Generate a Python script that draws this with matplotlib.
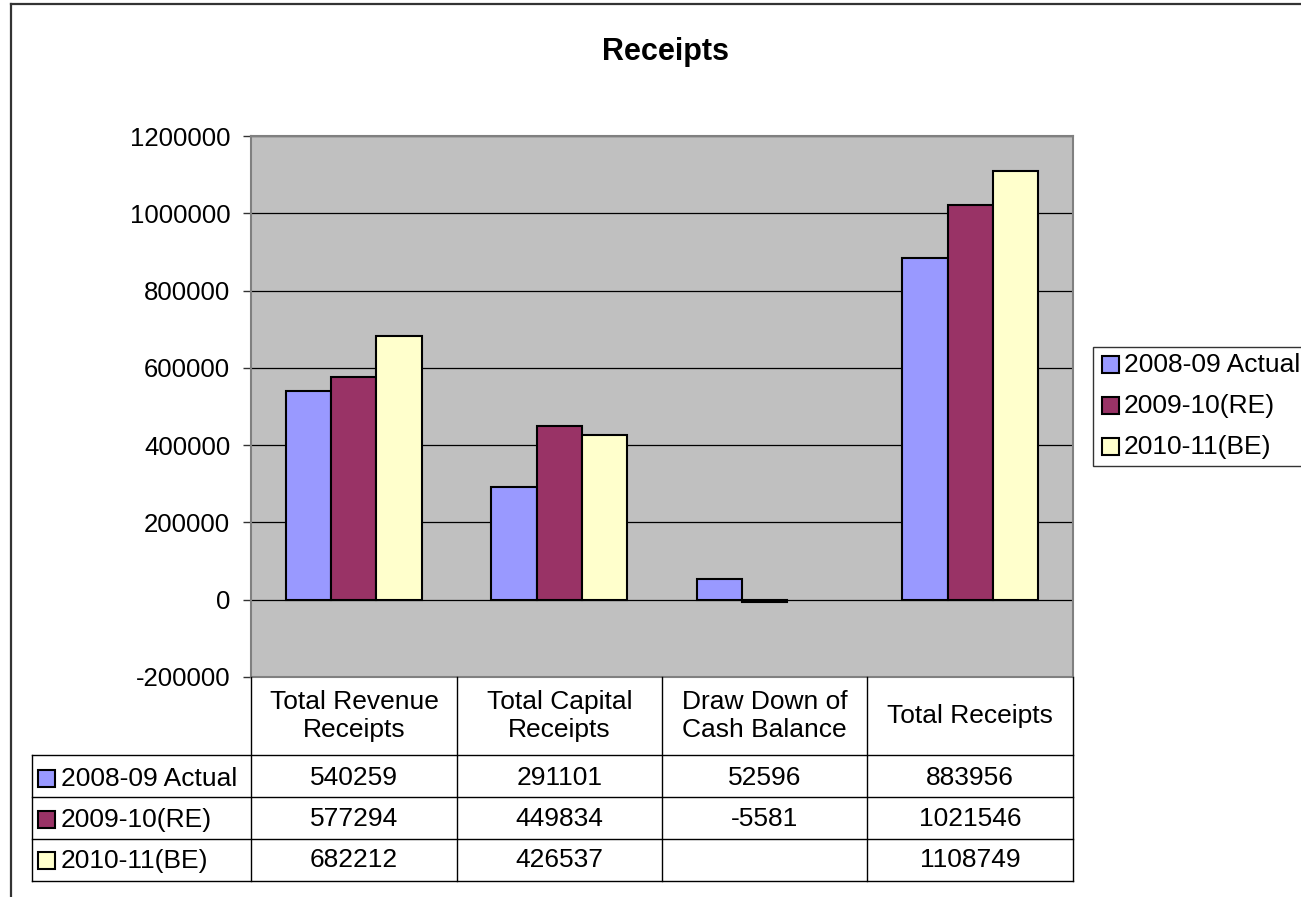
import numpy as np
import matplotlib
matplotlib.use("Agg")
import matplotlib.pyplot as plt
from matplotlib.lines import Line2D
from matplotlib.patches import Rectangle

categories = ["Total Revenue\nReceipts", "Total Capital\nReceipts", "Draw Down of\nCash Balance", "Total Receipts"]
series_names = ["2008-09 Actual", "2009-10(RE)", "2010-11(BE)"]
actual_0809 = [540259, 291101, 52596, 883956]
re_0910 = [577294, 449834, -5581, 1021546]
be_1011 = [682212, 426537, None, 1108749]
series_values = [actual_0809, re_0910, be_1011]
colors = ["#9999FF", "#993366", "#FFFFCC"]
yticks = list(range(-200000, 1200001, 200000))

plt.rcParams['font.family'] = ['Liberation Sans', 'DejaVu Sans']
W, H = 1301, 897
fig = plt.figure(figsize=(W / 100, H / 100), dpi=100)

def P(x, y):
    return (x / W, 1 - y / H)

# chart border
fig.add_artist(Line2D([11 / W, 11 / W], [P(0, 4)[1], 0], color="#333333", lw=1.6))
fig.add_artist(Line2D([11 / W, 1], [P(0, 4)[1]] * 2, color="#333333", lw=1.6))

L, R, T, B = 251, 1073, 136, 677
ax = fig.add_axes([L / W, 1 - B / H, (R - L) / W, (B - T) / H])
ax.set_facecolor("#C0C0C0")
ax.set_xlim(-0.5, 3.5)
ax.set_ylim(-200000, 1200000)
for y in yticks:
    ax.axhline(y, color="black", lw=0.9, zorder=1)

bw = 0.2206
x = np.arange(len(categories))
for i, (vals, c) in enumerate(zip(series_values, colors)):
    v = np.array([np.nan if a is None else a for a in vals], dtype=float)
    ax.bar(x + (i - 1) * bw, v, width=bw, color=c, edgecolor="black", linewidth=1.5, zorder=3)

ax.set_xticks([])
ax.set_yticks(yticks)
ax.set_yticklabels([str(t) for t in yticks], fontsize=18.5)
ax.tick_params(axis="y", direction="out", length=6, width=1, color="#333333", pad=9)
for s in ["top", "right", "bottom", "left"]:
    ax.spines[s].set_color("#808080")
    ax.spines[s].set_linewidth(1.5)

# title
fig.text(*P(666, 52), "Receipts", fontsize=22, fontweight="bold", ha="center", va="center")

# data table
cols = [251, 457, 662, 867, 1073]
rows = [755, 797, 839, 881]
lc = "black"
lw = 1.0
for cx in cols:
    fig.add_artist(Line2D([cx / W] * 2, [P(0, 677)[1], P(0, 881)[1]], color=lc, lw=lw))
fig.add_artist(Line2D([32 / W] * 2, [P(0, 755)[1], P(0, 881)[1]], color=lc, lw=lw))
for ry in rows:
    fig.add_artist(Line2D([32 / W, 1073 / W], [P(0, ry)[1]] * 2, color=lc, lw=lw))

for j, cat in enumerate(categories):
    cx = (cols[j] + cols[j + 1]) / 2
    fig.text(*P(cx, 716), cat, fontsize=19, ha="center", va="center", linespacing=1.25)

row_centers = [778, 819, 860]
for i, (name, vals, c) in enumerate(zip(series_names, series_values, colors)):
    yc = row_centers[i]
    fig.add_artist(Rectangle(P(38, yc + 9), 17 / W, 17 / H, facecolor=c, edgecolor="black", lw=1.5))
    fig.text(*P(61, yc + 1), name, fontsize=19, ha="left", va="center")
    for j, v in enumerate(vals):
        if v is None:
            continue
        cx = (cols[j] + cols[j + 1]) / 2
        fig.text(*P(cx, yc), str(v), fontsize=19, ha="center", va="center")

# legend
fig.add_artist(Rectangle(P(1093, 466), (1310 - 1093) / W, (466 - 347) / H, facecolor="white",
                         edgecolor="#333333", lw=1.0))
leg_y = [364, 405, 446]
for name, c, yc in zip(series_names, colors, leg_y):
    fig.add_artist(Rectangle(P(1102, yc + 9), 17 / W, 17 / H, facecolor=c, edgecolor="black", lw=1.5))
    fig.text(*P(1124, yc + 1), name, fontsize=19, ha="left", va="center")

fig.savefig("out.png", dpi=100, facecolor="white")
